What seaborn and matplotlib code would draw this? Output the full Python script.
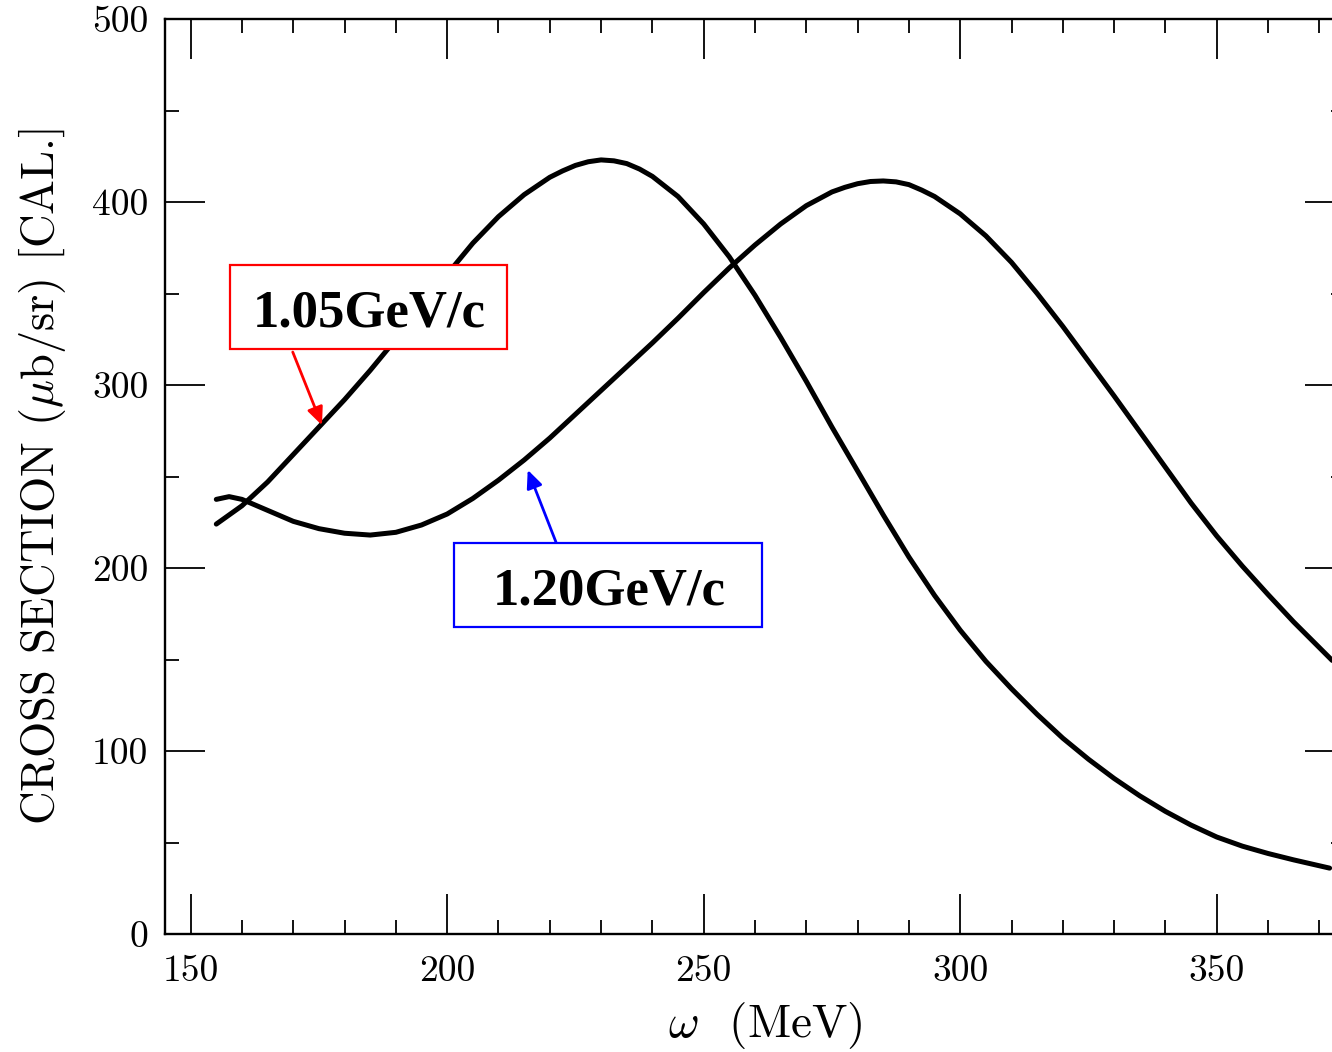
import numpy as np
import pandas as pd
import matplotlib
matplotlib.use("Agg")
import matplotlib.pyplot as plt
from matplotlib.patches import Rectangle
import seaborn as sns

# ---- data ----
omega_105 = [155, 160, 165, 170, 175, 180, 185, 190, 195, 200, 205, 210, 215, 220,
             222.5, 225, 227.5, 230, 232.5, 235, 237.5, 240, 245, 250, 255, 260, 265,
             270, 275, 280, 285, 290, 295, 300, 305, 310, 315, 320, 325, 330, 335,
             340, 345, 350, 355, 360, 365, 372]
sigma_105 = [224, 234, 247, 262, 277, 292, 308, 325, 343, 360.5, 377.5, 392, 404, 413.5,
             417, 420, 422, 423, 422.5, 421, 418, 414, 403, 388, 370, 349, 326,
             302, 277, 253, 229, 206, 185, 166, 149, 134, 120, 107, 95.5, 85, 75.5,
             67, 59.5, 53, 48, 44, 40.5, 36]

omega_120 = [155, 157.5, 160, 165, 170, 175, 180, 185, 190, 195, 200, 205, 210, 215,
             220, 225, 230, 235, 240, 245, 250, 255, 260, 265, 270, 275, 277.5, 280,
             282.5, 285, 287.5, 290, 292.5, 295, 300, 305, 310, 315, 320, 325, 330,
             335, 340, 345, 350, 355, 360, 365, 370, 372.5]
sigma_120 = [237.5, 239, 237.5, 231.5, 225.5, 221.5, 219, 218, 219.5, 223.5, 229.5, 238, 248, 259,
             271, 284, 297, 310, 323, 336.5, 350.5, 364, 376.5, 388, 398, 405.5, 408, 410,
             411.2, 411.5, 411, 409.5, 406.5, 403, 393.5, 381.5, 367, 350, 332, 313, 294,
             274.5, 255, 235.5, 217.5, 201, 185.5, 170.5, 156.5, 149.5]

labels = ["1.05GeV/c", "1.20GeV/c"]
x_major = [150, 200, 250, 300, 350]
x_major_labels = ["150", "200", "250", "300", "350"]
y_major = [0, 100, 200, 300, 400, 500]
y_major_labels = ["0", "100", "200", "300", "400", "500"]

df = pd.concat([
    pd.DataFrame({"omega": omega_105, "sigma": sigma_105, "p": labels[0]}),
    pd.DataFrame({"omega": omega_120, "sigma": sigma_120, "p": labels[1]}),
], ignore_index=True)

# ---- style ----
sns.set_theme(style="ticks")
plt.rcParams["font.family"] = ["cmr10", "DejaVu Serif"]
plt.rcParams["mathtext.fontset"] = "cm"
plt.rcParams["axes.unicode_minus"] = False
plt.rcParams["axes.formatter.use_mathtext"] = True
for k in ["text.color", "axes.labelcolor", "xtick.color", "ytick.color", "axes.edgecolor"]:
    plt.rcParams[k] = "black"

fig = plt.figure(figsize=(13.32, 10.52), dpi=100)
ax = fig.add_axes([165 / 1332, 118 / 1052, 1180 / 1332, 915 / 1052])

sns.lineplot(data=df, x="omega", y="sigma", hue="p", palette=["black", "black"],
             linewidth=3.6, legend=False, errorbar=None, ax=ax)

ax.set_xlim(145, 375)
ax.set_ylim(0, 500)
ax.set_xticks(x_major)
ax.set_xticklabels(x_major_labels)
ax.set_yticks(y_major)
ax.set_yticklabels(y_major_labels)
ax.set_xticks(np.arange(150, 375, 10), minor=True)
ax.set_yticks(np.arange(50, 500, 100), minor=True)

for s in ax.spines.values():
    s.set_linewidth(1.7)
    s.set_color("black")
    s.set_visible(True)

ax.tick_params(which="both", direction="in", top=True, right=True, width=1.3,
               color="black", labelcolor="black")
ax.tick_params(which="major", length=29)
ax.tick_params(which="minor", length=10)
ax.tick_params(axis="x", which="major", labelsize=27, pad=15)
ax.tick_params(axis="y", which="major", labelsize=27, pad=12)

ax.set_xlabel(r"$\omega$  (MeV)", fontsize=34)
ax.xaxis.set_label_coords(0.509, -0.072)
ax.set_ylabel(r"CROSS SECTION ($\mu$b/sr) [CAL.]", fontsize=33.5, labelpad=17)

# ---- annotations ----
bold = dict(family=["Liberation Serif", "DejaVu Serif"], weight="bold",
            fontsize=38, color="black")
ax.annotate("", xy=(175.6, 278), xytext=(169.9, 318),
            arrowprops=dict(arrowstyle="-|>,head_length=0.9,head_width=0.4",
                            color="red", lw=2, shrinkA=0, shrinkB=0))
ax.annotate("", xy=(215.7, 253.6), xytext=(221.2, 214.2),
            arrowprops=dict(arrowstyle="-|>,head_length=0.9,head_width=0.4",
                            color="blue", lw=2, shrinkA=0, shrinkB=0))
ax.add_patch(Rectangle((157.7, 319.7), 54.0, 45.9, fc="white", ec="red",
                       lw=1.6, zorder=4))
ax.add_patch(Rectangle((201.3, 167.8), 60.0, 45.9, fc="white", ec="blue",
                       lw=1.6, zorder=4))
ax.text(184.8, 331.7, labels[0], ha="center", va="baseline", zorder=5, **bold)
ax.text(231.55, 179.8, labels[1], ha="center", va="baseline", zorder=5, **bold)

fig.savefig("out.png", dpi=100)
